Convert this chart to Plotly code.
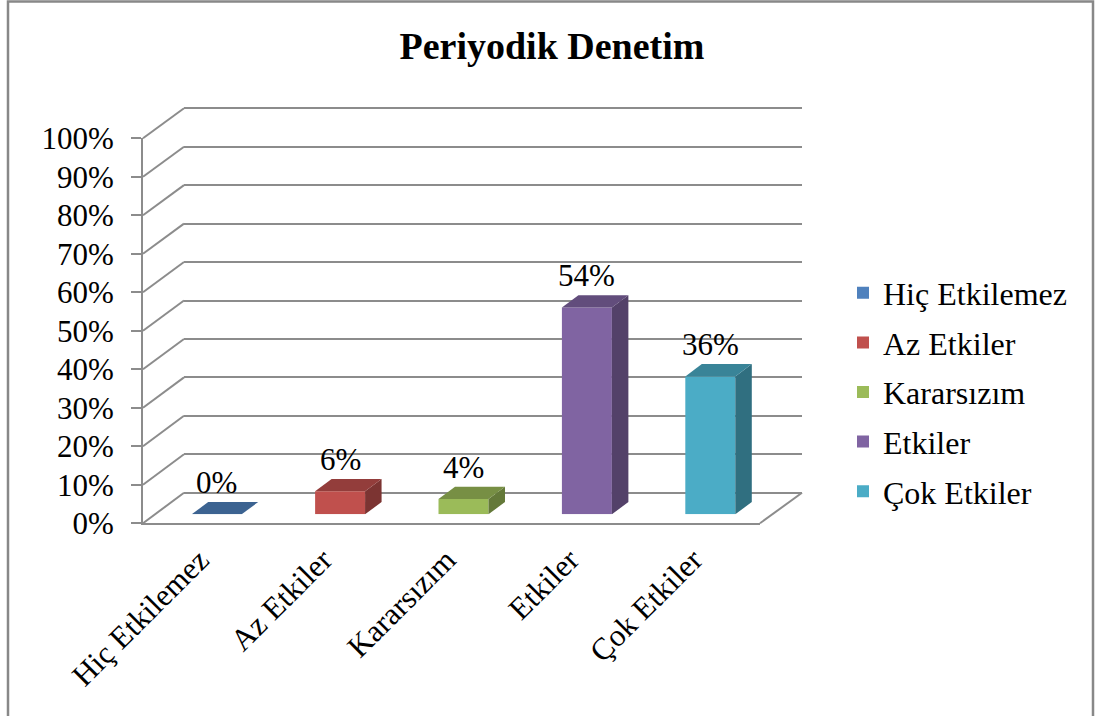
import plotly.graph_objects as go

# ---- data ----
categories = ["Hiç Etkilemez", "Az Etkiler", "Kararsızım", "Etkiler", "Çok Etkiler"]
values = [0.00, 0.06, 0.04, 0.54, 0.36]
colors = ["#4F81BD", "#C0504D", "#9BBB59", "#8064A2", "#4BACC6"]
y_ticks = [0.0, 0.1, 0.2, 0.3, 0.4, 0.5, 0.6, 0.7, 0.8, 0.9, 1.0]
y_tick_labels = ["0%", "10%", "20%", "30%", "40%", "50%", "60%", "70%", "80%", "90%", "100%"]
title_text = "Periyodik Denetim"

# ---- page / style ----
W, H = 1099, 716
FONT = "Liberation Serif"
GRID = "#8C8C8C"
FRAME = "#888888"


def px_x(v):
    return v / W


def px_y(v):
    return 1 - v / H


# three planes of the pseudo-3D box, pixel extents (left, right, top, bottom)
BACK = dict(l=184, r=802, t=108.3, b=492.7)    # back wall with gridlines
FRONT = dict(l=143, r=760, t=138.3, b=523.3)   # front edge: value axis + category labels
BARS = dict(l=155, r=772, t=131.3, b=514.3)    # plane the bars stand in


def dom_x(p):
    return [px_x(p["l"]), px_x(p["r"])]


def dom_y(p, headroom=0.0):
    top = p["t"] - headroom * (p["b"] - p["t"])
    return [px_y(p["b"]), px_y(top)]


# the back wall axis runs a little past 100% so its top gridline is not clipped
BACK_HEADROOM = 0.02

BAR_W = 0.405                 # bar width in category units
DEPTH_PX = (16.5, 12.3)       # bar depth offset (right, up) in pixels
x_unit = (BARS["r"] - BARS["l"]) / len(categories)
y_unit = BARS["b"] - BARS["t"]
ddx = DEPTH_PX[0] / x_unit
ddy = DEPTH_PX[1] / y_unit


def shade(hex_color, f):
    h = hex_color.lstrip("#")
    r, g, b = (int(h[i:i + 2], 16) for i in (0, 2, 4))
    return "#{:02X}{:02X}{:02X}".format(int(r * f), int(g * f), int(b * f))


fig = go.Figure()

# placeholders so the back wall and the front axes get drawn
fig.add_trace(go.Scatter(x=[0, 1], y=[0, 1], mode="markers", marker=dict(opacity=0),
                         showlegend=False, hoverinfo="skip", xaxis="x", yaxis="y"))
fig.add_trace(go.Scatter(x=[0, len(categories) - 1], y=[0, 1], mode="markers",
                         marker=dict(opacity=0), showlegend=False, hoverinfo="skip",
                         xaxis="x2", yaxis="y2"))

# bars (front faces)
for c, v, col in zip(categories, values, colors):
    fig.add_trace(go.Bar(
        x=[c], y=[v], name=c, width=BAR_W,
        marker=dict(color=col, line=dict(width=0)),
        xaxis="x3", yaxis="y3", legendgroup=c,
        hovertemplate="%{x}: %{y:.0%}<extra></extra>",
    ))

shapes = []
annotations = []

# side and top faces of each bar
for i, (c, v, col) in enumerate(zip(categories, values, colors)):
    xl, xr = i - BAR_W / 2, i + BAR_W / 2
    side = f"M{xr},0 L{xr + ddx},{ddy} L{xr + ddx},{v + ddy} L{xr},{v} Z"
    top = f"M{xl},{v} L{xr},{v} L{xr + ddx},{v + ddy} L{xl + ddx},{v + ddy} Z"
    shapes.append(dict(type="path", path=side, xref="x3", yref="y3",
                       fillcolor=shade(col, 0.65), line=dict(width=0), layer="above"))
    shapes.append(dict(type="path", path=top, xref="x3", yref="y3",
                       fillcolor=shade(col, 0.77), line=dict(width=0), layer="above"))
    annotations.append(dict(
        x=c, y=v + ddy, xref="x3", yref="y3", text=f"{round(v * 100)}%",
        showarrow=False, yanchor="bottom", xanchor="center", yshift=0,
        font=dict(family=FONT, size=31, color="#000000"),
    ))

# diagonal grid connectors between the front axis and the back wall
for v in y_ticks:
    fy = FRONT["b"] - v * (FRONT["b"] - FRONT["t"])
    by = BACK["b"] - v * (BACK["b"] - BACK["t"])
    shapes.append(dict(type="line", xref="paper", yref="paper",
                       x0=px_x(FRONT["l"]), y0=px_y(fy), x1=px_x(BACK["l"]), y1=px_y(by),
                       line=dict(color=GRID, width=2), layer="below"))
# right edge of the floor
shapes.append(dict(type="line", xref="paper", yref="paper",
                   x0=px_x(FRONT["r"]), y0=px_y(FRONT["b"]), x1=px_x(BACK["r"]), y1=px_y(BACK["b"]),
                   line=dict(color=GRID, width=2), layer="below"))

# chart frame
shapes.append(dict(type="rect", xref="paper", yref="paper",
                   x0=px_x(8), x1=px_x(1093), y0=-0.05, y1=px_y(1.5),
                   line=dict(color=FRAME, width=2.5), fillcolor="rgba(0,0,0,0)", layer="above"))

fig.update_layout(
    template="none",
    width=W, height=H,
    margin=dict(l=0, r=0, t=0, b=0),
    paper_bgcolor="#FFFFFF",
    plot_bgcolor="rgba(0,0,0,0)",
    font=dict(family=FONT, color="#000000"),
    barmode="overlay",
    title=dict(text=f"<b>{title_text}</b>", x=px_x(552), xanchor="center",
               y=px_y(46), yanchor="middle",
               font=dict(family=FONT, size=38, color="#000000")),
    # back wall
    xaxis=dict(domain=dom_x(BACK), range=[0, 1], visible=False, anchor="y"),
    yaxis=dict(domain=dom_y(BACK, BACK_HEADROOM), range=[0, 1 + BACK_HEADROOM], anchor="x",
               tick0=0, dtick=0.1,
               showgrid=True, gridcolor=GRID, gridwidth=2,
               zeroline=True, zerolinecolor=GRID, zerolinewidth=2,
               showticklabels=False, ticks="", showline=False, automargin=False),
    # front edge with value axis and category labels
    xaxis2=dict(domain=dom_x(FRONT), range=[-0.5, len(categories) - 0.5], anchor="y2",
                tickmode="array", tickvals=list(range(len(categories))), ticktext=categories,
                tickangle=-45, ticks="", showgrid=False, zeroline=False,
                showline=True, linecolor=GRID, linewidth=2,
                ticklabelshift=-5, ticklabelstandoff=4,
                tickfont=dict(family=FONT, size=31, color="#000000"), automargin=False),
    yaxis2=dict(domain=dom_y(FRONT), range=[0, 1], anchor="x2",
                tickmode="array", tickvals=y_ticks, ticktext=y_tick_labels,
                ticks="outside", ticklen=10, tickwidth=2, tickcolor=GRID,
                showline=True, linecolor=GRID, linewidth=2,
                showgrid=False, zeroline=False, ticklabelstandoff=11,
                tickfont=dict(family=FONT, size=31, color="#000000"), automargin=False),
    # bar plane
    xaxis3=dict(domain=dom_x(BARS), range=[-0.5, len(categories) - 0.5], anchor="y3",
                type="category", categoryorder="array", categoryarray=categories,
                visible=False),
    yaxis3=dict(domain=dom_y(BARS), range=[0, 1], anchor="x3", visible=False),
    legend=dict(x=px_x(843), y=px_y(392), xanchor="left", yanchor="middle",
                font=dict(family=FONT, size=32, color="#000000"),
                bgcolor="rgba(0,0,0,0)", tracegroupgap=5, traceorder="grouped"),
    shapes=shapes,
    annotations=annotations,
)

fig.write_html("out.html")
